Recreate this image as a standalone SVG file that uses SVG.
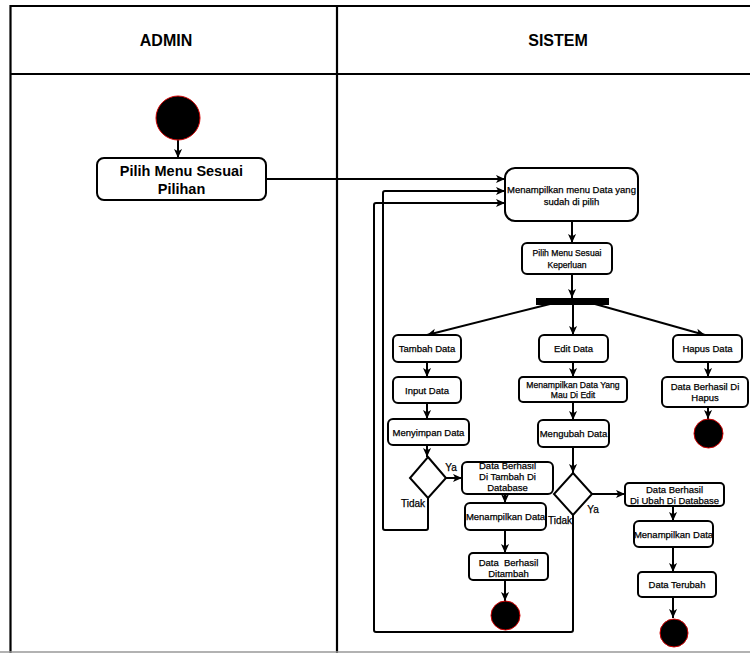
<svg xmlns="http://www.w3.org/2000/svg" width="750" height="653" viewBox="0 0 750 653">
<defs>
<marker id="arr" markerUnits="userSpaceOnUse" viewBox="0 0 10 10" refX="10" refY="5" markerWidth="9" markerHeight="9" orient="auto">
<path d="M0,0.5 L10,5 L0,9.5 L2.5,5 z" fill="#000"/>
</marker>
<style>
.frame{fill:none;stroke:#000;stroke-width:2.2}
.box{fill:#fff;stroke:#000;stroke-width:2}
.dot{fill:#000;stroke:#d00000;stroke-width:1}
.ln{fill:none;stroke:#000;stroke-width:2;stroke-linejoin:round}
.ar{marker-end:url(#arr)}
text{font-family:"Liberation Sans",Arial,sans-serif;fill:#000;text-anchor:middle}
.h{font-size:16px;font-weight:bold}
.b{font-size:14.5px;font-weight:bold}
.t{font-size:9.5px;stroke:#000;stroke-width:0.25}
.s{font-size:8.6px;stroke:#000;stroke-width:0.25}
.lbl{font-size:10px;stroke:#000;stroke-width:0.25}
</style>
</defs>
<rect width="750" height="653" fill="#fff"/>
<g id="swimlanes">
<path class="frame" d="M762,6 H10.5 V660"/>
<path class="frame" d="M10.5,74 H762"/>
<path class="frame" d="M337,6 V660"/>
<line x1="0" y1="652" x2="750" y2="652" stroke="#999" stroke-width="1.5"/>
<text class="h" x="166" y="46">ADMIN</text>
<text class="h" x="558" y="46">SISTEM</text>
</g>
<g id="connectors">
<path class="ln ar" d="M178,140 V158"/>
<path class="ln ar" d="M266,179 H505"/>
<path class="ln ar" d="M428,498 V528 Q428,530 426,530 H385 Q383,530 383,528 V193 Q383,191 385,191 H505"/>
<path class="ln ar" d="M573,515 V630 Q573,632 571,632 H376 Q374,632 374,630 V205 Q374,203 376,203 H505"/>
<path class="ln ar" d="M572,221 V243"/>
<path class="ln ar" d="M572,274 V298"/>
<path class="ln ar" d="M550,304 L427,335"/>
<path class="ln ar" d="M573,305 V335"/>
<path class="ln ar" d="M595,304 L705,335"/>
<path class="ln ar" d="M427,362 V377"/>
<path class="ln ar" d="M427,403 V419"/>
<path class="ln ar" d="M427,445 V457"/>
<path class="ln ar" d="M446,478 H462"/>
<path class="ln ar" d="M505,494 V503"/>
<path class="ln ar" d="M505,530 V553"/>
<path class="ln ar" d="M505,580 V601"/>
<path class="ln ar" d="M573,362 V377"/>
<path class="ln ar" d="M573,402 V420"/>
<path class="ln ar" d="M573,447 V473"/>
<path class="ln ar" d="M592,494 H625"/>
<path class="ln ar" d="M673,506 V521"/>
<path class="ln ar" d="M673,547 V572"/>
<path class="ln ar" d="M673,597 V618"/>
<path class="ln ar" d="M708,362 V377"/>
<path class="ln ar" d="M708,407 V419"/>
<text class="lbl" x="451" y="471">Ya</text>
<text class="lbl" x="413" y="507">Tidak</text>
<text class="lbl" x="593" y="513">Ya</text>
<text class="lbl" x="560" y="524">Tidak</text>
</g>
<g id="start">
<circle class="dot" cx="178" cy="118" r="22"/>
</g>
<g id="pilih-menu-pilihan">
<rect class="box" x="97" y="158" width="169" height="42" rx="7"/>
<text class="b" x="181.5" y="176">Pilih Menu Sesuai</text>
<text class="b" x="181.5" y="194">Pilihan</text>
</g>
<g id="menampilkan-menu">
<rect class="box" x="505" y="168" width="133" height="53" rx="10"/>
<text class="t" x="571.5" y="193">Menampilkan menu Data yang</text>
<text class="t" x="571.5" y="205">sudah di pilih</text>
</g>
<g id="pilih-menu-keperluan">
<rect class="box" x="522" y="243" width="90" height="31" rx="5"/>
<text class="s" x="567" y="256">Pilih Menu Sesuai</text>
<text class="s" x="567" y="268">Keperluan</text>
</g>
<g id="fork">
<rect x="536" y="298" width="73" height="7" fill="#000"/>
</g>
<g id="tambah-data">
<rect class="box" x="393" y="335" width="68" height="27" rx="5"/>
<text class="t" x="427" y="352">Tambah Data</text>
</g>
<g id="input-data">
<rect class="box" x="393" y="377" width="68" height="26" rx="5"/>
<text class="t" x="427" y="393.5">Input Data</text>
</g>
<g id="menyimpan-data">
<rect class="box" x="388" y="419" width="81" height="26" rx="5"/>
<text class="t" x="428.5" y="435.5">Menyimpan Data</text>
</g>
<g id="decision-tambah">
<path class="box" d="M428,457 L446,478 L428,498 L410,478 Z"/>
</g>
<g id="berhasil-tambah-db">
<rect class="box" x="462" y="462" width="91" height="32" rx="5"/>
<text class="t" x="507.5" y="469">Data Berhasil</text>
<text class="t" x="507.5" y="480">Di Tambah Di</text>
<text class="t" x="507.5" y="491">Database</text>
</g>
<g id="menampilkan-data-tambah">
<rect class="box" x="465" y="503" width="81" height="27" rx="5"/>
<text class="t" x="505.5" y="520">Menampilkan Data</text>
</g>
<g id="berhasil-ditambah">
<rect class="box" x="469" y="553" width="79" height="27" rx="4"/>
<text class="t" x="508.5" y="565.5" xml:space="preserve">Data  Berhasil</text>
<text class="t" x="508.5" y="576.5">Ditambah</text>
</g>
<g id="end-tambah">
<circle class="dot" cx="505.5" cy="615.5" r="14.5"/>
</g>
<g id="edit-data">
<rect class="box" x="539" y="335" width="69" height="27" rx="5"/>
<text class="t" x="573.5" y="352">Edit Data</text>
</g>
<g id="menampilkan-data-edit">
<rect class="box" x="519" y="377" width="108" height="25" rx="4"/>
<text class="s" x="573" y="387.5">Menampilkan Data Yang</text>
<text class="s" x="573" y="398">Mau Di Edit</text>
</g>
<g id="mengubah-data">
<rect class="box" x="538" y="420" width="71" height="27" rx="5"/>
<text class="t" x="573.5" y="437">Mengubah Data</text>
</g>
<g id="decision-edit">
<path class="box" d="M573,473 L592,494 L573,515 L554,494 Z"/>
</g>
<g id="berhasil-ubah-db">
<rect class="box" x="625" y="483" width="99" height="23" rx="4"/>
<text class="t" x="674.5" y="493">Data Berhasil</text>
<text class="t" x="674.5" y="504">Di Ubah Di Database</text>
</g>
<g id="menampilkan-data-ubah">
<rect class="box" x="634" y="521" width="79" height="26" rx="5"/>
<text class="t" x="673.5" y="537.5">Menampilkan Data</text>
</g>
<g id="data-terubah">
<rect class="box" x="638" y="572" width="78" height="25" rx="4"/>
<text class="t" x="677" y="588">Data Terubah</text>
</g>
<g id="end-ubah">
<circle class="dot" cx="674" cy="633" r="14"/>
</g>
<g id="hapus-data">
<rect class="box" x="673" y="335" width="69" height="27" rx="5"/>
<text class="t" x="707.5" y="352">Hapus Data</text>
</g>
<g id="berhasil-hapus">
<rect class="box" x="662" y="377" width="86" height="30" rx="5"/>
<text class="t" x="705" y="390">Data Berhasil Di</text>
<text class="t" x="705" y="401">Hapus</text>
</g>
<g id="end-hapus">
<circle class="dot" cx="708.5" cy="433.5" r="14.5"/>
</g>
</svg>
